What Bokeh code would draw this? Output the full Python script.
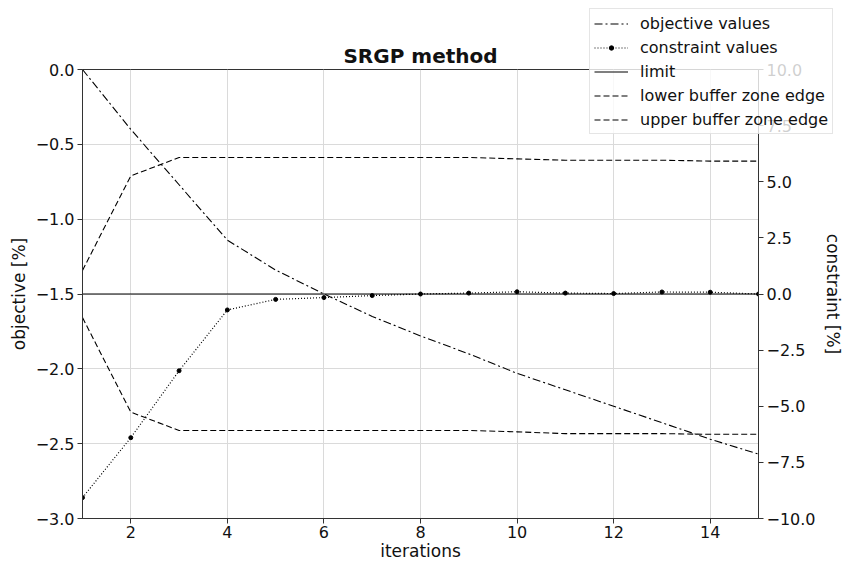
from bokeh.plotting import figure
from bokeh.models import Range1d, LinearAxis, FixedTicker, Legend, LegendItem, Title, GridBox
from bokeh.embed import file_html
from bokeh.resources import INLINE

iterations = list(range(1, 16))
objective = [0.0, -0.40, -0.77, -1.14, -1.34, -1.50, -1.65, -1.78, -1.90, -2.03, -2.14, -2.25, -2.36, -2.47, -2.57]
constraint = [-9.07, -6.40, -3.42, -0.71, -0.24, -0.16, -0.07, 0.0, 0.04, 0.10, 0.04, 0.02, 0.09, 0.08, 0.0]
limit = [0.0] * 15
upper_buffer = [1.05, 5.26, 6.08, 6.08, 6.08, 6.08, 6.08, 6.08, 6.08, 6.02, 5.96, 5.96, 5.96, 5.92, 5.92]
lower_buffer = [-1.05, -5.26, -6.08, -6.08, -6.08, -6.08, -6.08, -6.08, -6.08, -6.14, -6.22, -6.22, -6.22, -6.25, -6.25]

x_ticks = [2, 4, 6, 8, 10, 12, 14]
left_ticks = [-3.0, -2.5, -2.0, -1.5, -1.0, -0.5, 0.0]
right_ticks = [-10.0, -7.5, -5.0, -2.5, 0.0, 2.5, 5.0, 7.5, 10.0]
legend_labels = ["objective values", "constraint values", "limit",
                 "lower buffer zone edge", "upper buffer zone edge"]

FONT = "DejaVu Sans"
W, H = 845, 563

def fmt(v):
    return ("%.1f" % v).replace("-", "\u2212")

p = figure(width=W, height=H, output_backend="svg", toolbar_location=None,
           x_range=Range1d(1, 15), y_range=Range1d(-3, 0),
           min_border_left=82, min_border_right=87, min_border_top=69, min_border_bottom=44)
p.extra_y_ranges = {"c": Range1d(-10, 10)}

p.title = Title(text="SRGP method", align="center", text_font=FONT, text_font_size="20px",
                text_font_style="bold", text_color="#111111", offset=0, standoff=3)

p.background_fill_color = "white"
p.border_fill_color = "white"
p.outline_line_color = "#333333"
p.outline_line_width = 1

xa = p.xaxis[0]
xa.ticker = FixedTicker(ticks=x_ticks)
xa.axis_label = "iterations"
ya = p.yaxis[0]
ya.ticker = FixedTicker(ticks=left_ticks)
ya.major_label_overrides = {v: fmt(v) for v in left_ticks}
ya.axis_label = "objective [%]"

ra = LinearAxis(y_range_name="c", ticker=FixedTicker(ticks=right_ticks), axis_label="constraint [%]")
ra.major_label_overrides = {v: fmt(v) for v in right_ticks}
p.add_layout(ra, "right")

for ax in [xa, ya, ra]:
    ax.major_label_text_font = FONT
    ax.major_label_text_font_size = "16px"
    ax.major_label_text_color = "#111111"
    ax.axis_label_text_font = FONT
    ax.axis_label_text_font_size = "17px"
    ax.axis_label_text_font_style = "normal"
    ax.axis_label_text_color = "#111111"
    ax.axis_line_color = "#333333"
    ax.major_tick_line_color = "#333333"
    ax.major_tick_out = 5
    ax.major_tick_in = 0
    ax.minor_tick_line_color = None
    ax.major_label_standoff = 3
    ax.axis_label_standoff = 4
xa.major_label_text_line_height = 1.0
xa.axis_label_text_line_height = 1.0
xa.axis_label_standoff = 0
xa.major_label_standoff = 2

p.xgrid.grid_line_color = "#dadada"
p.ygrid.grid_line_color = "#dadada"
p.xgrid.ticker = FixedTicker(ticks=x_ticks)
p.ygrid.ticker = FixedTicker(ticks=left_ticks)

OBJ_DASH = "8 3 2 3"
CON_DASH = "1 2"
BUF_DASH = "6 3"

p.line(iterations, objective, line_color="black", line_width=1.1, line_dash=OBJ_DASH)
p.line(iterations, constraint, y_range_name="c", line_color="black", line_width=1.2, line_dash=CON_DASH)
p.scatter(iterations, constraint, y_range_name="c", size=4, color="black")
p.line(iterations, limit, y_range_name="c", line_color="black", line_width=1.2)
p.line(iterations, lower_buffer, y_range_name="c", line_color="black", line_width=1.1, line_dash=BUF_DASH)
p.line(iterations, upper_buffer, y_range_name="c", line_color="black", line_width=1.1, line_dash=BUF_DASH)

# transparent overlay figure that only carries the legend (so it may extend past the frame)
q = figure(width=W, height=H, output_backend="svg", toolbar_location=None,
           x_range=Range1d(0, 1), y_range=Range1d(0, 1), x_axis_type=None, y_axis_type=None,
           min_border_left=0, min_border_right=0, min_border_top=0, min_border_bottom=0)
q.grid.visible = False
q.outline_line_color = None
q.background_fill_alpha = 0
q.border_fill_alpha = 0
e = [float("nan")]  # invisible legend proxies
l_obj = q.line(e, e, line_color="black", line_width=1.1, line_dash=OBJ_DASH)
l_con = q.line(e, e, line_color="black", line_width=1.2, line_dash=CON_DASH)
l_con_m = q.scatter(e, e, size=4, color="black")
l_lim = q.line(e, e, line_color="black", line_width=1.2)
l_low = q.line(e, e, line_color="black", line_width=1.1, line_dash=BUF_DASH)
l_up = q.line(e, e, line_color="black", line_width=1.1, line_dash=BUF_DASH)
rends = [[l_obj], [l_con, l_con_m], [l_lim], [l_low], [l_up]]

legend = Legend(items=[LegendItem(label=lab, renderers=r) for lab, r in zip(legend_labels, rends)],
                location=(589, 429))
legend.label_text_font = FONT
legend.label_text_font_size = "16px"
legend.label_text_color = "#111111"
legend.glyph_width = 34
legend.glyph_height = 11
legend.label_height = 20
legend.spacing = 4
legend.padding = 4
legend.margin = 0
legend.label_standoff = 12
legend.border_line_color = "#cccccc"
legend.border_line_width = 1
legend.background_fill_color = "white"
legend.background_fill_alpha = 0.8
q.add_layout(legend, "center")

# p spans the whole grid; q sits in an inner cell so that it overlaps p without sharing
# any of p's edges (avoids frame alignment between the two)
layout = GridBox(children=[(p, 0, 0, 3, 3), (q, 1, 1, 1, 1)])

open("out.html", "w").write(file_html(layout, INLINE))
